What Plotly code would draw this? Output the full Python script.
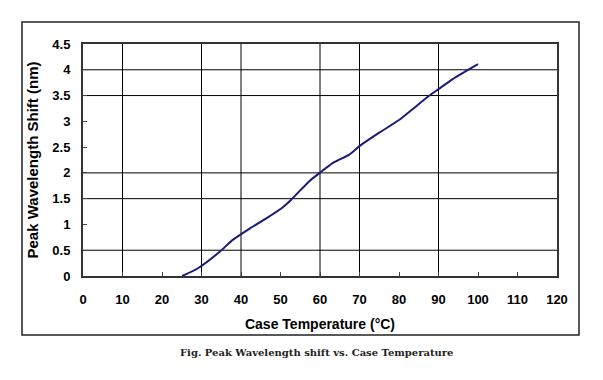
import plotly.graph_objects as go

# Data
temperature = [25.1, 29.1, 34.6, 37.9, 42.2, 46.0, 50.2, 52.7, 57.3, 59.9, 63.2, 67.5, 70.0, 75.0, 80.1, 83.5, 87.7, 90.1, 93.6, 100.0]
shift_nm = [0.0, 0.15, 0.47, 0.70, 0.92, 1.10, 1.31, 1.48, 1.84, 2.00, 2.19, 2.36, 2.52, 2.78, 3.03, 3.24, 3.50, 3.63, 3.82, 4.11]

x_ticks = [0, 10, 20, 30, 40, 50, 60, 70, 80, 90, 100, 110, 120]
y_ticks = [0, 0.5, 1, 1.5, 2, 2.5, 3, 3.5, 4, 4.5]
y_tick_text = ["0", "0.5", "1", "1.5", "2", "2.5", "3", "3.5", "4", "4.5"]
x_grid = [10, 30, 40, 60, 70, 90]
y_grid = [0.5, 1.5, 2, 3.5, 4]

fig = go.Figure()
fig.add_trace(go.Scatter(x=temperature, y=shift_nm, mode="lines",
                         line=dict(color="#1a1a7a", width=2, shape="spline", smoothing=0.6),
                         showlegend=False, hoverinfo="skip"))

shapes = []
for gx in x_grid:
    shapes.append(dict(type="line", xref="x", yref="y", x0=gx, x1=gx, y0=0, y1=4.5,
                       line=dict(color="black", width=1), layer="below"))
for gy in y_grid:
    shapes.append(dict(type="line", xref="x", yref="y", x0=0, x1=120, y0=gy, y1=gy,
                       line=dict(color="black", width=1), layer="below"))
# outer frame
shapes.append(dict(type="rect", xref="paper", yref="paper",
                   x0=-61/474, x1=(579-83)/474, y0=-(335-276)/232, y1=(276-22)/232,
                   line=dict(color="#222222", width=1.5)))

fig.update_layout(
    width=603, height=380,
    margin=dict(l=83, r=46, t=44, b=104),
    paper_bgcolor="white", plot_bgcolor="white",
    shapes=shapes,
    font=dict(family="Liberation Sans, Arial, sans-serif", color="black"),
    annotations=[dict(text="<b>Fig. Peak Wavelength shift vs. Case Temperature</b>",
                      xref="paper", yref="paper", x=(316-83)/474, y=-(352-276)/232,
                      showarrow=False, xanchor="center", yanchor="middle",
                      font=dict(family="DejaVu Serif, Liberation Serif, serif", size=10, color="#222"))],
)
fig.update_xaxes(range=[0, 120], tickvals=x_ticks, ticks="inside", ticklen=4, tickcolor="#444",
                 showgrid=False, zeroline=False, showline=True, linecolor="#333", linewidth=2, mirror=True,
                 automargin=False, ticklabelstandoff=10,
                 tickfont=dict(size=13, family="Liberation Sans, Arial", weight="bold"),
                 title=dict(text="<b>Case Temperature (°C)</b>", font=dict(size=14), standoff=14))
fig.update_yaxes(range=[0, 4.5], tickvals=y_ticks, ticktext=y_tick_text, ticks="inside", ticklen=4, tickcolor="#444",
                 showgrid=False, zeroline=False, showline=True, linecolor="#333", linewidth=2, mirror=True,
                 automargin=False, ticklabelstandoff=8,
                 tickfont=dict(size=13, family="Liberation Sans, Arial", weight="bold"),
                 title=dict(text="<b>Peak Wavelength Shift (nm)</b>", font=dict(size=15), standoff=10))

fig.write_html("out.html", config={"displayModeBar": False},
               post_script="document.body.style.margin='0';")
